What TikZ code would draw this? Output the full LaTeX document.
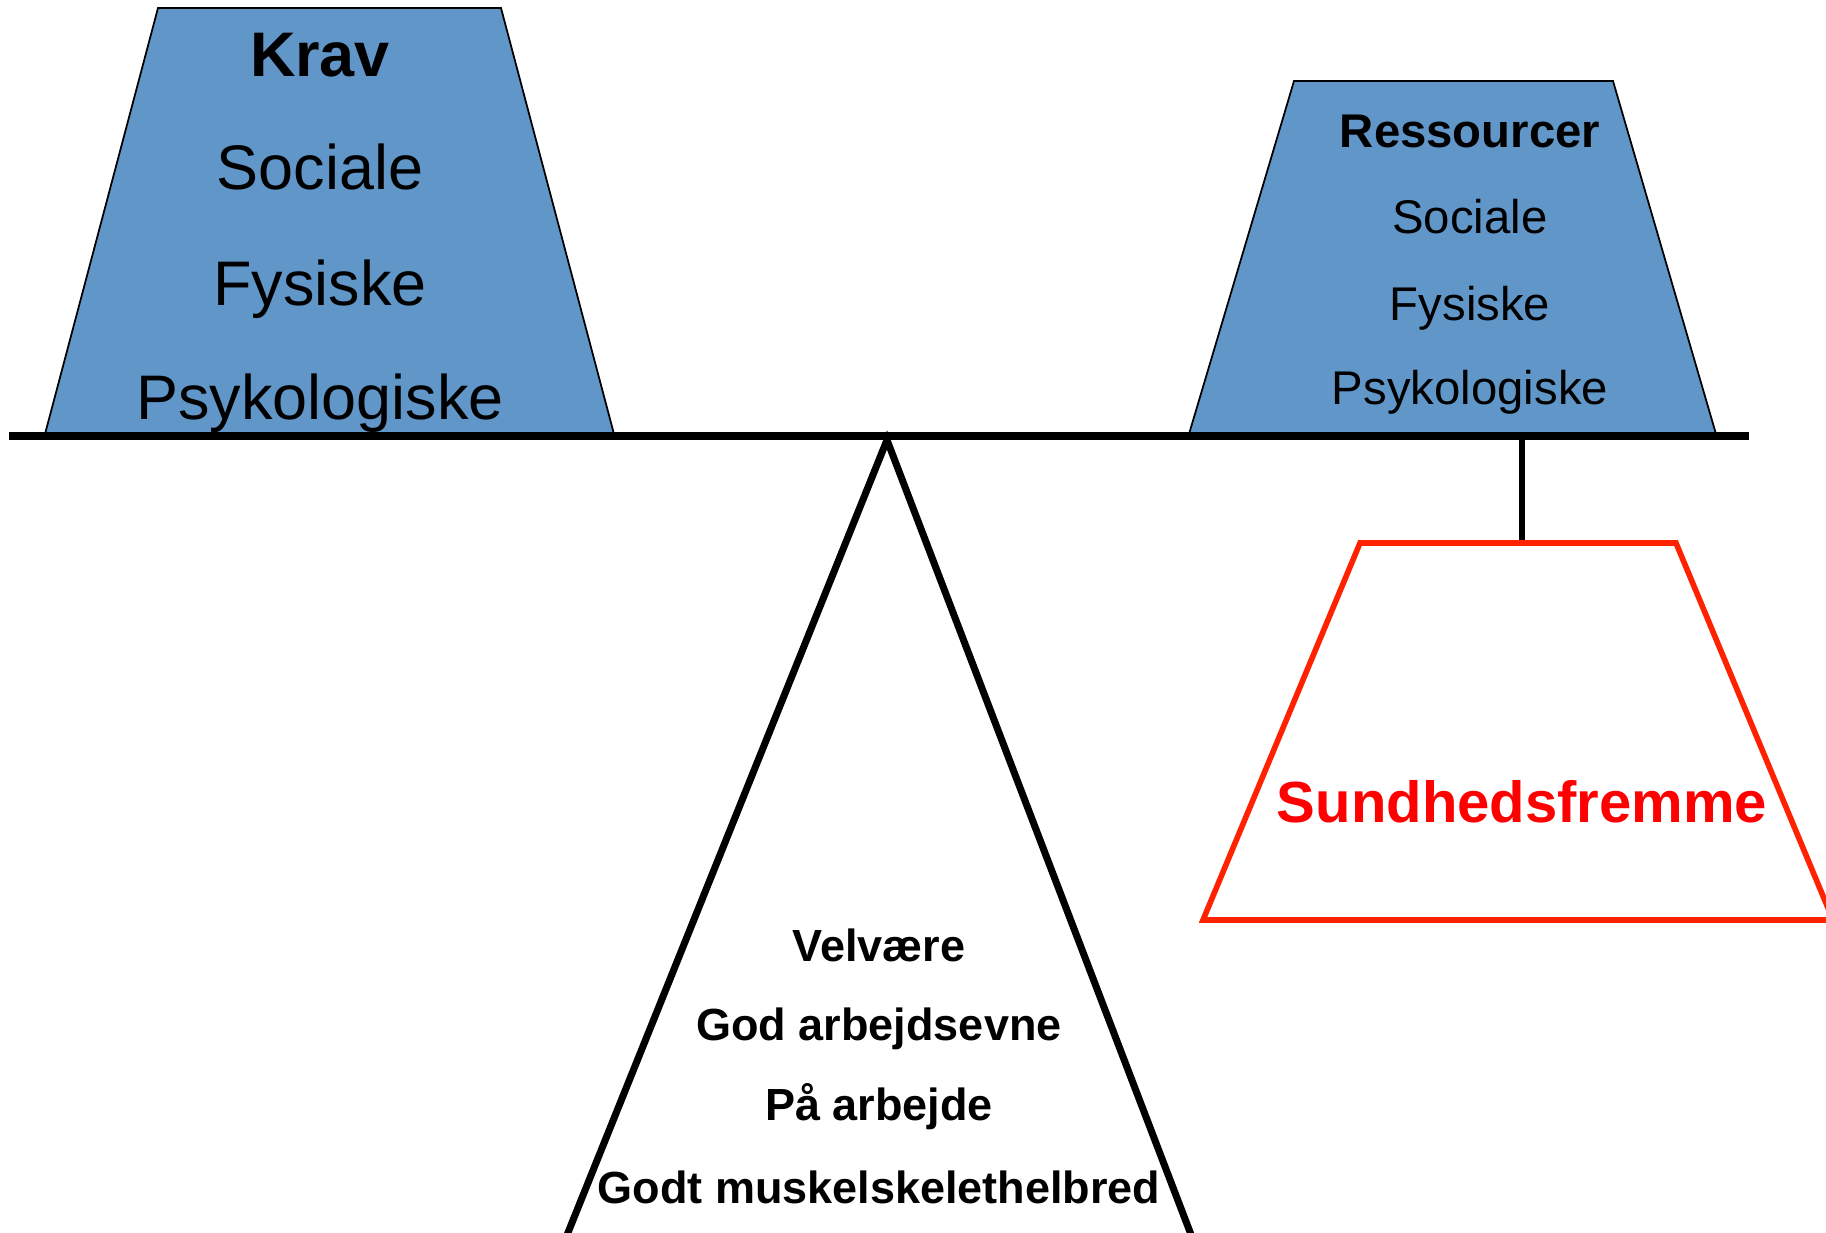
\documentclass[tikz,border=0pt]{standalone}
\usepackage{fontspec}
\setmainfont{Liberation Sans}
\definecolor{boxblue}{HTML}{6196C9}
\definecolor{redline}{HTML}{FF2200}
\definecolor{redtext}{HTML}{FF0000}
\tikzset{
  bluebox/.style={fill=boxblue, draw=black, line width=0.5pt, line join=miter},
  bigtxt/.style={anchor=base, inner sep=0pt, font=\fontsize{17.9pt}{20pt}\selectfont},
  midtxt/.style={anchor=base, inner sep=0pt, font=\fontsize{13.45pt}{16pt}\selectfont},
  lowtxt/.style={anchor=base, inner sep=0pt, font=\bfseries\fontsize{12.8pt}{15pt}\selectfont},
  redtxt/.style={anchor=base, inner sep=0pt, text=redtext, font=\bfseries\fontsize{16.5pt}{19pt}\selectfont},
  beam/.style={line width=2.15pt},
  fulcrum/.style={line width=2pt, line join=miter},
  hanger/.style={line width=1.7pt},
  redbox/.style={draw=redline, line width=1.6pt, line join=miter}
}
\begin{document}
\begin{tikzpicture}[x=0.01cm, y=-0.01cm]
\useasboundingbox (0,0) rectangle (1826,1232);
\clip (0,0) rectangle (1826,1232);
% left blue trapezoid (Krav)
\path[bluebox] (45,434) -- (158,8) -- (501,8) -- (614,434) -- cycle;
\node[bigtxt, font=\bfseries\fontsize{17.9pt}{20pt}\selectfont] (krav) at (320,76) {Krav};
\node[bigtxt] (ksoc) at (320,189) {Sociale};
\node[bigtxt] (kfys) at (320,305) {Fysiske};
\node[bigtxt] (kpsy) at (320,419) {Psykologiske};
% right blue trapezoid (Ressourcer)
\path[bluebox] (1189,434) -- (1294,81) -- (1613,81) -- (1716,434) -- cycle;
\node[midtxt, font=\bfseries\fontsize{13.45pt}{16pt}\selectfont] (res) at (1470,147) {Ressourcer};
\node[midtxt] (rsoc) at (1470,233) {Sociale};
\node[midtxt] (rfys) at (1470,320) {Fysiske};
\node[midtxt] (rpsy) at (1470,404) {Psykologiske};
% fulcrum triangle
\coordinate (apex) at (887,440);
\coordinate (fl) at (563,1245);
\coordinate (fr) at (1195,1245);
\draw[fulcrum] (fl) -- (apex) -- (fr);
% beam
\coordinate (bl) at (9,436);
\coordinate (br) at (1749,436);
\draw[beam] (bl) -- (br);
% hanger and red trapezoid
\coordinate (hangtop) at (1522,438);
\coordinate (redtop) at (1522,543);
\draw[hanger] (hangtop) -- (redtop);
\draw[redbox] (1203,920) -- (1360,543) -- (1676,543) -- (1833,920) -- cycle;
\node[redtxt] (sund) at (1522,822) {Sundhedsfremme};
% bottom texts
\node[lowtxt] (velv) at (879,961) {Velvære};
\node[lowtxt] (god) at (879,1040) {God arbejdsevne};
\node[lowtxt] (paa) at (879,1120) {På arbejde};
\node[lowtxt] (godt) at (879,1203) {Godt muskelskelethelbred};
\end{tikzpicture}
\end{document}
